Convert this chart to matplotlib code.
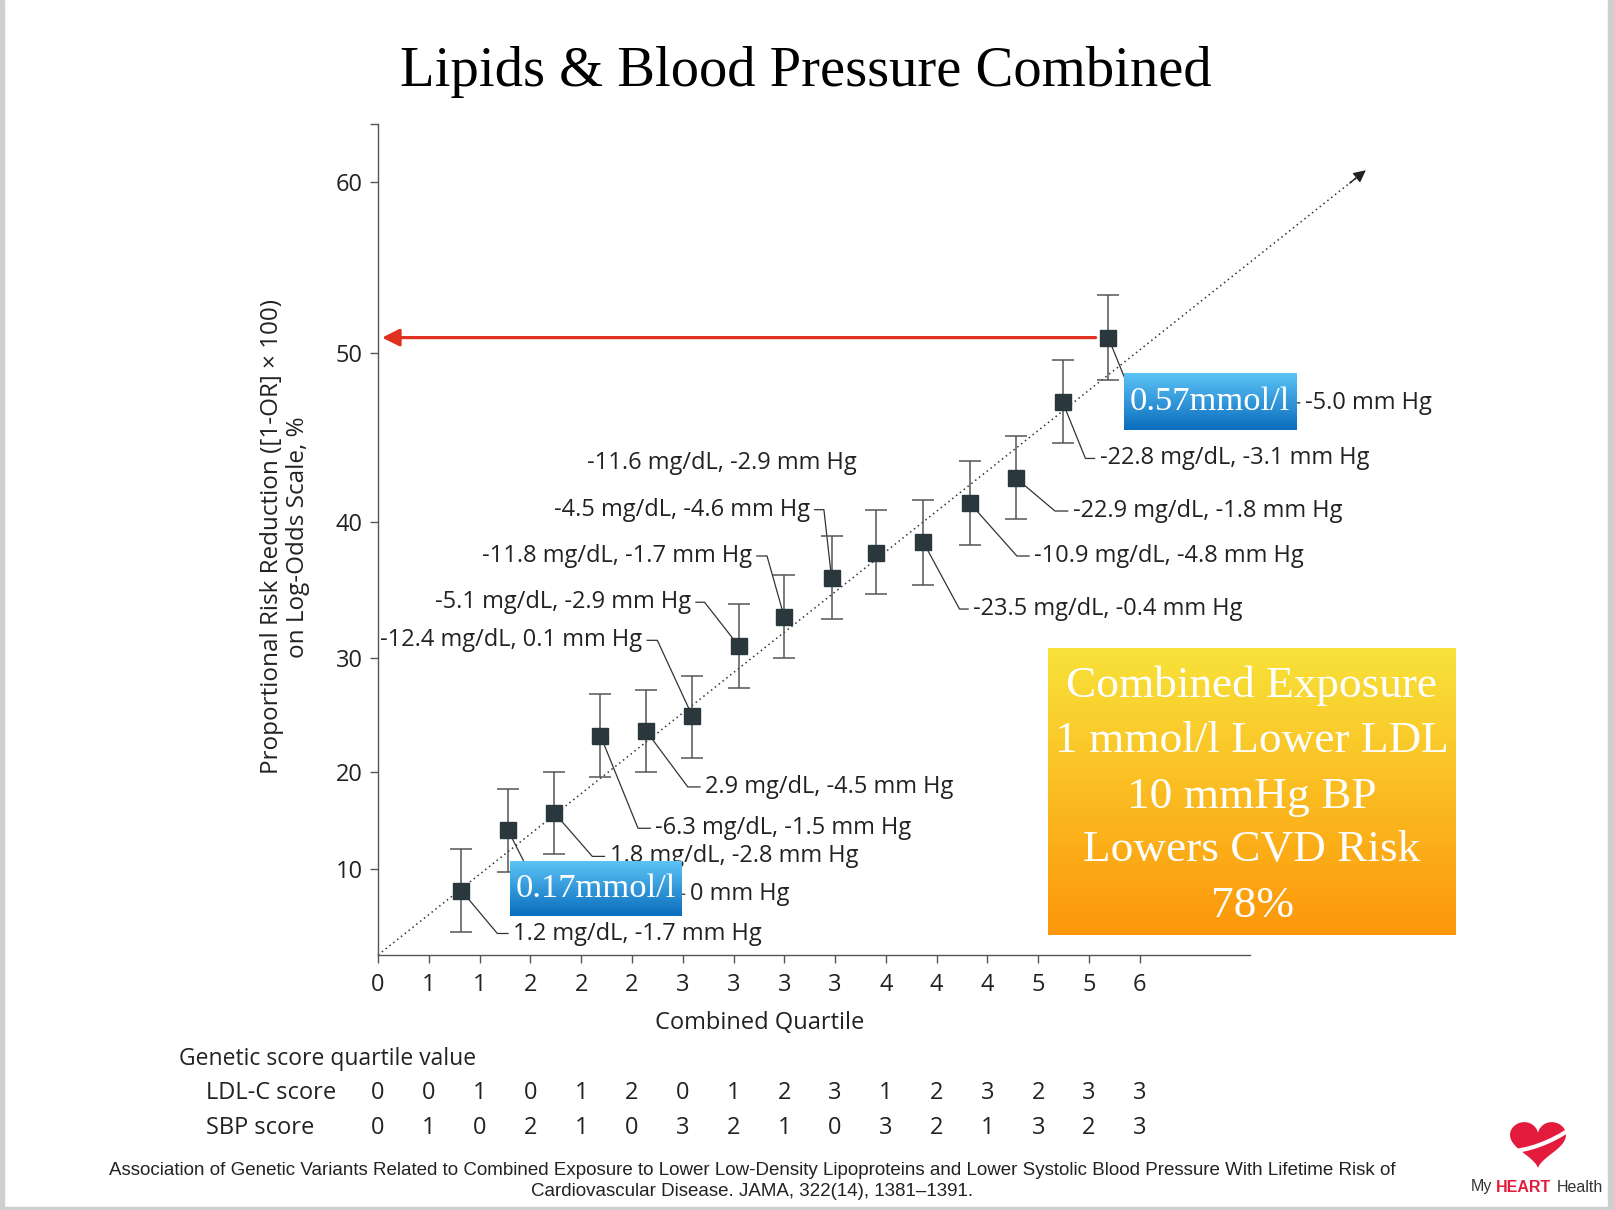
import numpy as np
import matplotlib
matplotlib.use('Agg')
import matplotlib.pyplot as plt
from matplotlib.path import Path
from matplotlib.patches import PathPatch, Rectangle
from matplotlib.transforms import blended_transform_factory

# data
quartile_pos = [1.64, 2.56, 3.47, 4.38, 5.28, 6.19, 7.10, 8.00, 8.93, 9.81, 10.74, 11.66, 12.56, 13.48, 14.38]
risk_red = [7.5, 14.0, 15.8, 23.2, 23.6, 24.9, 30.9, 33.0, 35.9, 37.7, 38.5, 41.1, 42.6, 47.1, 50.9]
ci_low = [2.7, 9.6, 11.5, 19.5, 20.0, 21.2, 27.4, 30.0, 32.9, 34.7, 35.4, 38.3, 40.2, 44.7, 48.4]
ci_high = [12.1, 18.2, 20.0, 26.8, 27.2, 28.4, 34.0, 36.1, 39.0, 40.7, 41.3, 43.6, 45.1, 49.6, 53.4]

point_labels = ['1.2 mg/dL, -1.7 mm Hg', '0 mm Hg', '1.8 mg/dL, -2.8 mm Hg',
                '-6.3 mg/dL, -1.5 mm Hg', '2.9 mg/dL, -4.5 mm Hg', '-12.4 mg/dL, 0.1 mm Hg',
                '-5.1 mg/dL, -2.9 mm Hg', '-11.8 mg/dL, -1.7 mm Hg', '-4.5 mg/dL, -4.6 mm Hg',
                '-11.6 mg/dL, -2.9 mm Hg', '-23.5 mg/dL, -0.4 mm Hg', '-10.9 mg/dL, -4.8 mm Hg',
                '-22.9 mg/dL, -1.8 mm Hg', '-22.8 mg/dL, -3.1 mm Hg', '-5.0 mm Hg']

xtick_labels = ['0', '1', '1', '2', '2', '2', '3', '3', '3', '3', '4', '4', '4', '5', '5', '6']
ldl_score = [0, 0, 1, 0, 1, 2, 0, 1, 2, 3, 1, 2, 3, 2, 3, 3]
sbp_score = [0, 1, 0, 2, 1, 0, 3, 2, 1, 0, 3, 2, 1, 3, 2, 3]

y_ticks = [10, 20, 30, 40, 50, 60]
combined_lines = ['Combined Exposure', '1 mmol/l Lower LDL', '10 mmHg BP', 'Lowers CVD Risk', '78%']

# label layout: text x, text y, elbow x, side
label_layout = [(2.66, 2.5, 2.35, 'r'), (6.14, 7.06, 3.2, 'r'), (4.56, 11.3, 4.22, 'r'),
                (5.46, 14.2, 5.12, 'r'), (6.44, 18.46, 6.10, 'r'), (5.20, 31.3, 5.50, 'l'),
                (6.16, 34.1, 6.43, 'l'), (7.36, 37.5, 7.66, 'l'), (8.50, 40.73, 8.78, 'l'),
                (6.78, 43.5, None, 'c'), (11.72, 33.6, 11.45, 'r'), (12.92, 37.5, 12.58, 'r'),
                (13.68, 40.65, 13.33, 'r'), (14.21, 43.76, 13.93, 'r'), (18.25, 47.05, 14.9, 'r')]

# log-odds like axis, from the tick spacing of the reference
knot_val = [-40, 0, 10, 20, 30, 40, 50, 60, 63.5, 120]
knot_pos = [-336, 0, 86, 183, 297, 433, 602, 773, 831.5, 1780]


def fwd(v):
    return np.interp(v, knot_val, knot_pos)


def inv(p):
    return np.interp(p, knot_pos, knot_val)


W, H = 1614, 1210
fig = plt.figure(figsize=(W / 100, H / 100), dpi=100)
sans = 'Open Sans'
fs = 17

ax = fig.add_axes([378 / W, 1 - 955 / H, 872 / W, 831.5 / H])
ax.set_yscale('function', functions=(fwd, inv))
ax.set_ylim(0, 63.5)
ax.set_xlim(0, 17.17)

for s in ['top', 'right']:
    ax.spines[s].set_visible(False)
for s in ['left', 'bottom']:
    ax.spines[s].set_color('#555555')
    ax.spines[s].set_linewidth(1.0)

ax.set_xticks(range(len(xtick_labels)))
ax.set_xticklabels(xtick_labels, fontfamily=sans, fontsize=fs, color='#222222')
ax.set_yticks(y_ticks)
ax.set_yticklabels([str(t) for t in y_ticks], fontfamily=sans, fontsize=fs, color='#222222')
ax.set_yticks([63.5], minor=True)
ax.tick_params(axis='both', which='both', length=6, width=1.0, color='#555555')
ax.tick_params(axis='x', pad=7)
ax.tick_params(axis='y', pad=5)

# dotted identity line with arrow
ax.plot([0, 19.45], [0, 60.7], ls=(0, (1, 2.2)), color='#333333', lw=1.1, clip_on=False, zorder=2)
ax.annotate('', xy=(19.45, 60.7), xytext=(-16, -12.7), textcoords='offset pixels',
            arrowprops=dict(arrowstyle='-|>', color='#222222', lw=1, mutation_scale=18,
                            shrinkA=0, shrinkB=0), annotation_clip=False)

# red arrow to the y axis
ax.annotate('', xy=(0.08, risk_red[-1]), xytext=(quartile_pos[-1] - 0.25, risk_red[-1]),
            arrowprops=dict(arrowstyle='-|>', color='#e0301e', lw=2.3, mutation_scale=26,
                            shrinkA=0, shrinkB=0))

y = np.array(risk_red)
yerr = [y - np.array(ci_low), np.array(ci_high) - y]
ax.errorbar(quartile_pos, risk_red, yerr=yerr, fmt='s', ms=12, mfc='#2a383e', mec='#2a383e',
            ecolor='#555555', elinewidth=1.1, capsize=8, capthick=1.1, zorder=4, clip_on=False)

# labels with leader lines
for (px, py), txt, (tx, ty, ex, side) in zip(zip(quartile_pos, risk_red), point_labels, label_layout):
    if side == 'c':
        ax.text(tx, ty, txt, ha='center', va='center', fontfamily=sans, fontsize=fs, color='#222222')
        continue
    if side == 'r':
        stub = tx - 0.1
        ha = 'left'
    else:
        stub = tx + 0.1
        ha = 'right'
    ax.plot([px, ex, stub], [py, ty, ty], color='#333333', lw=0.9, zorder=3, clip_on=False)
    ax.text(tx, ty, txt, ha=ha, va='center', fontfamily=sans, fontsize=fs, color='#222222')

# texts around the axes
fig.text(806 / W, 1 - 72 / H, 'Lipids & Blood Pressure Combined', ha='center', va='center',
         fontfamily='Liberation Serif', fontsize=40.8, color='black')
fig.text(285 / W, 1 - 537 / H, 'Proportional Risk Reduction ([1-OR] × 100)\non Log-Odds Scale, %',
         rotation=90, ha='center', va='center', multialignment='center', linespacing=1.15,
         fontfamily=sans, fontsize=17.5, color='#222222')
fig.text(760 / W, 1 - 1023 / H, 'Combined Quartile', ha='center', va='center',
         fontfamily=sans, fontsize=fs, color='#222222')
fig.text(179 / W, 1 - 1059 / H, 'Genetic score quartile value', ha='left', va='center',
         fontfamily=sans, fontsize=16.5, color='#222222')
fig.text(206 / W, 1 - 1093 / H, 'LDL-C score', ha='left', va='center',
         fontfamily=sans, fontsize=fs, color='#222222')
fig.text(206 / W, 1 - 1128 / H, 'SBP score', ha='left', va='center',
         fontfamily=sans, fontsize=fs, color='#222222')
row_tr = blended_transform_factory(ax.transData, fig.transFigure)
for i, (a, b) in enumerate(zip(ldl_score, sbp_score)):
    ax.text(i, 1 - 1093 / H, str(a), transform=row_tr, ha='center', va='center',
            fontfamily=sans, fontsize=fs, color='#222222')
    ax.text(i, 1 - 1128 / H, str(b), transform=row_tr, ha='center', va='center',
            fontfamily=sans, fontsize=fs, color='#222222')

fig.text(752 / W, 1 - 1181 / H,
         'Association of Genetic Variants Related to Combined Exposure to Lower Low-Density Lipoproteins '
         'and Lower Systolic Blood Pressure With Lifetime Risk of\nCardiovascular Disease. JAMA, 322(14), 1381–1391.',
         ha='center', va='center', multialignment='center', linespacing=1.32,
         fontfamily='Liberation Sans', fontsize=13.5, color='#222222')

# overlay in pixel units for the boxes and logo
deco = fig.add_axes([0, 0, 1, 1], zorder=10)
deco.set_xlim(0, W)
deco.set_ylim(H, 0)
deco.axis('off')


def grad_box(x0, y0, x1, y1, top, bot):
    g = np.linspace(0, 1, 80)[:, None, None]
    cols = (1 - g) * np.array(top)[None, None, :] + g * np.array(bot)[None, None, :]
    deco.imshow(cols, extent=(x0, x1, y1, y0), aspect='auto', interpolation='bilinear', zorder=5)


def hexrgb(h):
    return [int(h[i:i + 2], 16) / 255 for i in (1, 3, 5)]


grad_box(1124, 373, 1297, 430, hexrgb('#5cc3f6'), hexrgb('#0a6dbd'))
deco.text(1210, 402, '0.57mmol/l', ha='center', va='center', color='white',
          fontfamily='Liberation Serif', fontsize=24.8, zorder=6)
grad_box(510, 861, 682, 916, hexrgb('#5cc3f6'), hexrgb('#0a6dbd'))
deco.text(596, 889, '0.17mmol/l', ha='center', va='center', color='white',
          fontfamily='Liberation Serif', fontsize=24.8, zorder=6)

grad_box(1048, 648, 1456, 935, hexrgb('#f8e23a'), hexrgb('#fd970a'))
for line, yy in zip(combined_lines, [686, 741, 797, 850, 906]):
    deco.text(1252, yy, line, ha='center', va='center', color='white',
              fontfamily='Liberation Serif', fontsize=32.6, zorder=6)

# slide border
deco.add_patch(Rectangle((0, 0), 4, H, color='#cfcfcf', zorder=1))
deco.add_patch(Rectangle((W - 6, 0), 6, H, color='#cfcfcf', zorder=1))
deco.add_patch(Rectangle((0, H - 3), W, 3, color='#cfcfcf', zorder=1))

# logo
t = np.linspace(0, 2 * np.pi, 200)
hx = 16 * np.sin(t) ** 3
hy = 13 * np.cos(t) - 5 * np.cos(2 * t) - 2 * np.cos(3 * t) - np.cos(4 * t)
deco.fill(1538 + hx * 1.75, 1122 + (12 - hy) * 1.6, color='#e31c3d', lw=0, zorder=6)
sw = Path([(1506, 1152), (1540, 1150), (1572, 1128)], [Path.MOVETO, Path.CURVE3, Path.CURVE3])
deco.add_patch(PathPatch(sw, fc='none', ec='white', lw=3, zorder=7))
deco.text(1471, 1187, 'My', ha='left', va='center', fontfamily='Liberation Sans', fontsize=11.5,
          color='#333333', zorder=7)
deco.text(1496, 1187, 'HEART', ha='left', va='center', fontfamily='Liberation Sans', fontsize=11.5,
          fontweight='bold', color='#e31c3d', zorder=7)
deco.text(1557, 1187, 'Health', ha='left', va='center', fontfamily='Liberation Sans', fontsize=11.5,
          color='#333333', zorder=7)

fig.savefig('out.png', dpi=100)
